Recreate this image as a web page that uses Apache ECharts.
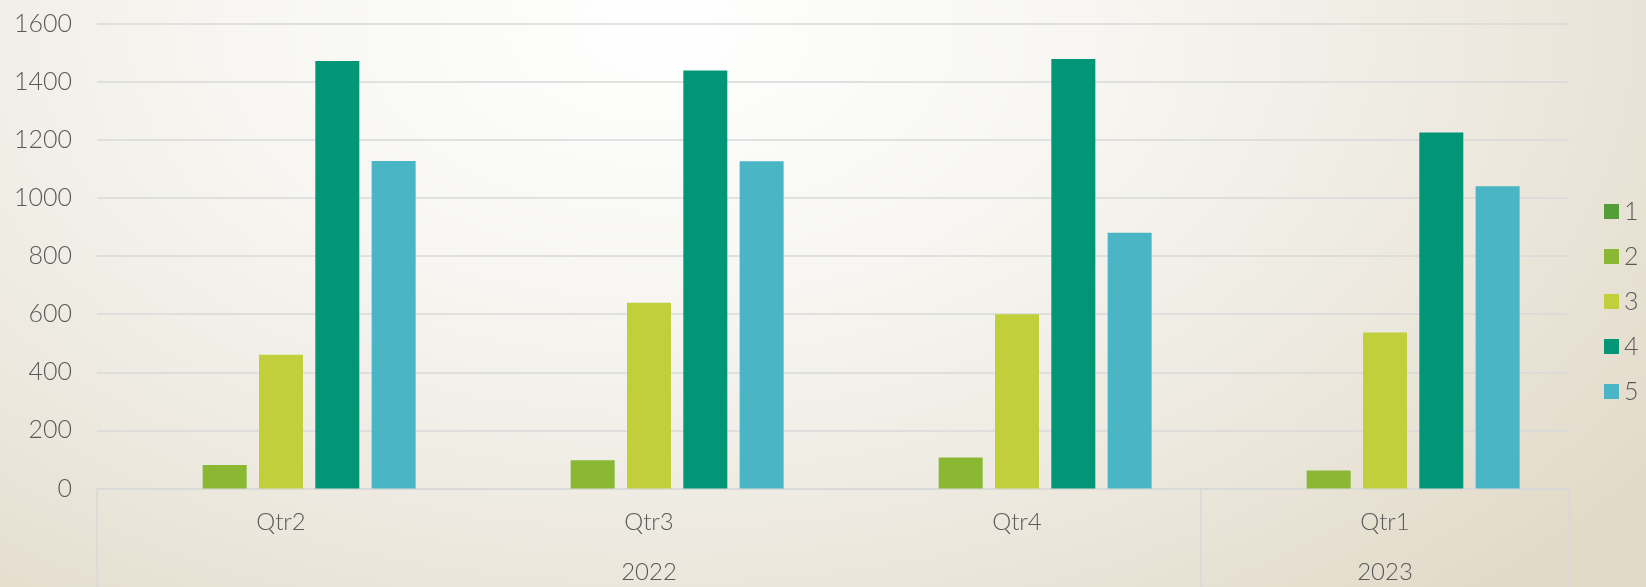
<!DOCTYPE html>
<html>
<head>
<meta charset="utf-8">
<script src="https://cdn.jsdelivr.net/npm/echarts@6/dist/echarts.min.js"></script>
<style>
html,body{margin:0;padding:0;width:1646px;height:587px;overflow:hidden;}
body{background:radial-gradient(ellipse 75% 130% at 40% 5%, #ffffff 0%, #f7f6f2 35%, #ece8de 70%, #e2dac8 100%);}
#chart{width:1646px;height:587px;}
</style>
</head>
<body>
<div id="chart"></div>
<script>
const quarters = ['Qtr2', 'Qtr3', 'Qtr4', 'Qtr1'];
const years = ['', '2022', '', '2023'];
const seriesNames = ['1', '2', '3', '4', '5'];
const s1 = [0, 0, 0, 0];
const s2 = [81, 97, 107, 62];
const s3 = [460, 639, 600, 537];
const s4 = [1471, 1438, 1478, 1225];
const s5 = [1127, 1126, 880, 1040];
const colors = ['#549E39', '#8AB833', '#C0CF3A', '#029676', '#4AB5C4'];

const allData = [s1, s2, s3, s4, s5];
const font = 'Lato, "Noto Sans", sans-serif';
const textColor = '#595959';
const lineColor = '#d9d9d9';

const chart = echarts.init(document.getElementById('chart'));
chart.setOption({
  backgroundColor: 'transparent',
  color: colors,
  animation: false,
  grid: { left: 97, right: 77, top: 23.5, bottom: 98.5 },
  legend: {
    orient: 'vertical',
    left: 1599,
    top: 194,
    itemWidth: 15,
    itemHeight: 15,
    itemGap: 20,
    icon: 'rect',
    data: seriesNames,
    textStyle: { color: textColor, fontSize: 25, fontFamily: font, fontWeight: 300 }
  },
  xAxis: [
    {
      type: 'category',
      data: quarters,
      position: 'bottom',
      axisLine: { show: true, lineStyle: { color: lineColor, width: 1.5 } },
      axisTick: { show: false },
      axisLabel: { color: textColor, fontSize: 24, fontFamily: font, fontWeight: 300, margin: 22, interval: 0 }
    },
    {
      type: 'category',
      data: years,
      position: 'bottom',
      gridIndex: 0,
      axisLine: { show: false },
      axisTick: {
        show: true,
        length: 110,
        lineStyle: { color: lineColor, width: 1.5 },
        interval: function (index) { return index === 0 || index === 3; }
      },
      axisLabel: { color: textColor, fontSize: 24, fontFamily: font, fontWeight: 300, margin: 72, interval: 0 }
    }
  ],
  yAxis: {
    type: 'value',
    min: 0,
    max: 1600,
    interval: 200,
    axisLine: { show: false },
    axisTick: { show: false },
    splitLine: { lineStyle: { color: lineColor, width: 1.5 } },
    axisLabel: {
      color: textColor, fontSize: 25, fontFamily: font, fontWeight: 300, margin: 25,
      formatter: function (v) { return String(v); }
    }
  },
  series: seriesNames.map((name, i) => ({
    name: name,
    type: 'bar',
    xAxisIndex: 0,
    data: allData[i],
    barWidth: 44,
    barGap: '28%',
    itemStyle: { color: colors[i] }
  }))
});
</script>
</body>
</html>
